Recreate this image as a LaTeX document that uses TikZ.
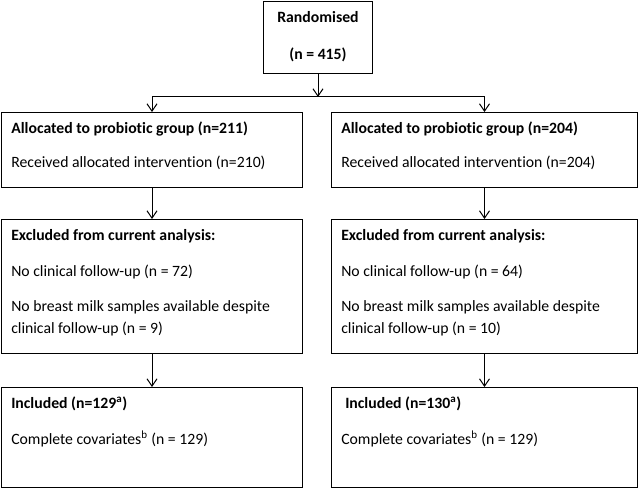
\documentclass[tikz,border=0pt]{standalone}
\usepackage{fontspec}
\setmainfont[Ligatures=NoCommon]{Carlito}
\usetikzlibrary{arrows.meta}

\begin{document}
\begin{tikzpicture}[x=0.75pt,y=0.75pt,yscale=-1,xscale=1,
	box/.style={draw,line width=0.75,inner sep=0pt,anchor=north west},
	txt/.style={anchor=base west,inner sep=0pt,align=left,font=\fontsize{11.8}{16.3}\selectfont},
	head/.style={txt,font=\fontsize{11.8}{16.3}\selectfont\bfseries},
	arr/.style={-{Straight Barb[length=5.5pt,width=7.5pt]},line width=0.75}]
				\useasboundingbox (0,0) rectangle (638,488);
				
				%Boxes
				\node [box,minimum width=81.75pt,minimum height=54pt] (rand) at (263,1) {};
				\node [box,minimum width=225.75pt,minimum height=56.25pt] (allocA) at (1,112) {};
				\node [box,minimum width=229.5pt,minimum height=56.25pt] (allocB) at (331,112) {};
				\node [box,minimum width=225.75pt,minimum height=100.5pt] (exclA) at (1,219) {};
				\node [box,minimum width=229.5pt,minimum height=100.5pt] (exclB) at (331,219) {};
				\node [box,minimum width=225.75pt,minimum height=75pt] (inclA) at (1,387) {};
				\node [box,minimum width=229.5pt,minimum height=75pt] (inclB) at (331,387) {};
				
				%Connectors
				\coordinate (split) at (318,97);
				\draw [arr] (rand) -- (split);
				\draw [arr] (split) -| (allocA);
				\draw [arr] (split) -| (allocB);
				\draw [arr] (allocA) -- (exclA);
				\draw [arr] (allocB) -- (exclB);
				\draw [arr] (exclA) -- (inclA);
				\draw [arr] (exclB) -- (inclB);
				
				% Text Node
				\node [head,anchor=base] (randT) at (318,22.5) {Randomised};
				\node [head,anchor=base] (randN) at (318,60) {(n = 415)};
				% Text Node
				\node [head] (allocAT) at (11,133.5) {Allocated to probiotic group (n=211)};
				\node [txt] (allocAN) at (11,167.5) {Received allocated intervention (n=210)};
				\node [head] (allocBT) at (341,133.5) {Allocated to probiotic group (n=204)};
				\node [txt] (allocBN) at (341,167.5) {Received allocated intervention (n=204)};
				% Text Node
				\node [head] (exclAT) at (11,240) {Excluded from current analysis:};
				\node [txt] (exclAF) at (11,276) {No clinical follow-up (n = 72)};
				\node [txt] (exclAM) at (11,333.3) {No breast milk samples available despite\\clinical follow-up (n = 9)};
				\node [head] (exclBT) at (341,240) {Excluded from current analysis:};
				\node [txt] (exclBF) at (341,276) {No clinical follow-up (n = 64)};
				\node [txt] (exclBM) at (341,333.3) {No breast milk samples available despite\\clinical follow-up (n = 10)};
				% Text Node
				\node [head] (inclAT) at (11,408) {Included (n=129\textsuperscript{a})};
				\node [txt] (inclAC) at (11,444) {Complete covariates\textsuperscript{b} (n = 129)};
				\node [head] (inclBT) at (345,408) {Included (n=130\textsuperscript{a})};
				\node [txt] (inclBC) at (341,444) {Complete covariates\textsuperscript{b} (n = 129)};
				
\end{tikzpicture}
\end{document}
